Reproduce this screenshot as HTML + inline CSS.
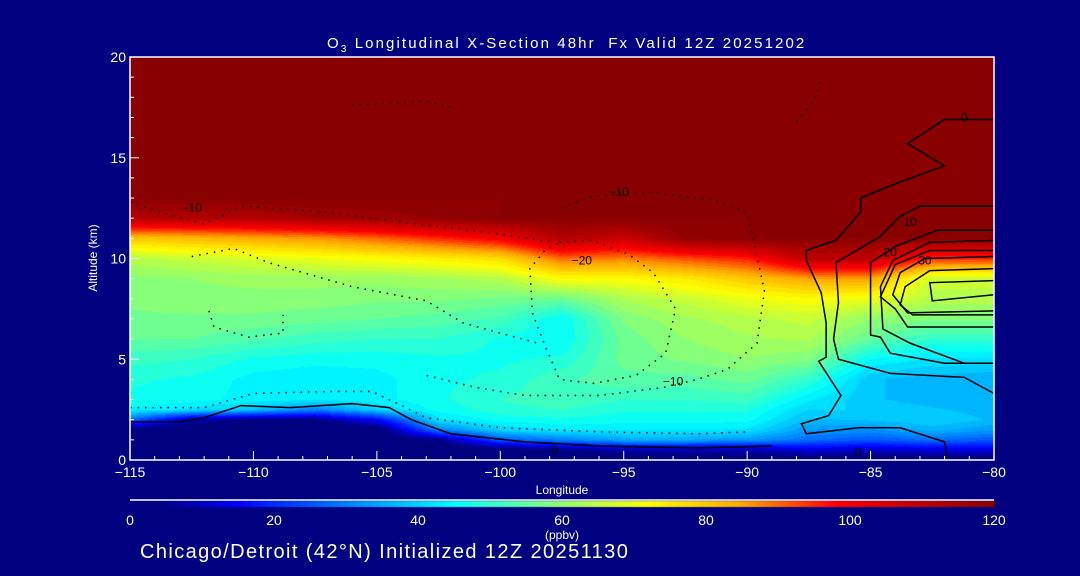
<!DOCTYPE html>
<html><head><meta charset="utf-8">
<style>
html,body{margin:0;padding:0;background:#000080;}
#root{position:relative;width:1080px;height:576px;background:#000080;overflow:hidden;font-family:"Liberation Sans",sans-serif;color:#fff;}
.t{position:absolute;white-space:nowrap;color:#fff;}
canvas{position:absolute;left:0;top:0;}
svg{position:absolute;left:0;top:0;}
</style></head><body>
<div id="root">
<canvas id="field" width="1080" height="576"></canvas>
<svg id="ov" width="1080" height="576"></svg>
<div class="t" style="left:327px;top:35px;font-size:15px;letter-spacing:2.1px;">O<sub style="font-size:10px">3</sub> Longitudinal X-Section 48hr&nbsp; Fx Valid 12Z 20251202</div>
<div class="t" style="left:93px;top:258px;font-size:12px;transform:translate(-50%,-50%) rotate(-90deg);">Altitude (km)</div>
<div class="t" style="left:562px;top:490px;font-size:12px;transform:translate(-50%,-50%);">Longitude</div>
<div class="t" style="left:562px;top:535px;font-size:12px;transform:translate(-50%,-50%);">(ppbv)</div>
<div class="t" style="left:140px;top:541px;font-size:20px;letter-spacing:1.4px;">Chicago/Detroit (42°N) Initialized 12Z 20251130</div>
</div>
<script>
const longitudes=[-115,-112.5,-110,-107.5,-105,-102.5,-100,-97.5,-95,-92.5,-90,-87.5,-85,-82.5,-80];
const altitudes=[0,0.5,1,1.5,2,2.5,3,4,5,6,7,8,9,10,11,12,13,20];
const ozoneByLon=[
[0,0,0,0,28,44,47,48,51,55,57,58,59,64,80,112,120,120],
[0,0,0,0,8,42,46,47,50,55,57,59,60,66,82,112,120,120],
[0,0,0,0,4,38,44,44,47,53,57,59,61,68,84,112,120,120],
[0,0,0,0,4,30,43,43,46,51,56,59,61,70,86,115,120,120],
[0,0,0,0,15,40,44,44,46,50,55,58,61,72,90,116,120,120],
[0,0,4,30,42,46,47,47,47,50,54,58,62,74,95,118,120,120],
[0,0,25,40,46,49,50,48,47,47,52,57,64,77,100,120,120,120],
[0,4,30,43,47,50,52,52,48,45,45,56,72,90,112,120,120,120],
[0,8,35,43,46,48,50,54,56,56,58,63,72,88,108,120,120,120],
[0,8,35,43,46,48,50,54,58,60,62,66,75,92,118,120,120,120],
[0,8,33,42,46,48,51,56,60,62,64,70,80,96,120,120,120,120],
[0,12,28,33,37,40,43,50,58,63,66,72,85,110,120,120,120,120],
[0,10,25,32,38,40,38,38,45,55,60,70,85,110,120,120,120,120],
[0,12,28,36,40,38,36,36,42,50,58,64,66,95,120,120,120,120],
[0,12,25,33,37,36,35,35,42,50,58,64,66,95,120,120,120,120]];
const xTicks=[-115,-110,-105,-100,-95,-90,-85,-80];
const yTicks=[0,5,10,15,20];
const cbTicks=[0,20,40,60,80,100,120];
const posContours=[
[[-80,16.9],[-82,16.9],[-83.5,15.7],[-82,14.6],[-83.8,13.8],[-85.4,13],[-85.4,12.3],[-86.4,10.9],[-87.6,10.4],[-87.6,9.9],[-87,8.3],[-86.8,6.8],[-86.8,5.1],[-87.1,4.9],[-86.2,3.2],[-86.7,2.2],[-87.8,1.8],[-87.6,1.3],[-85.5,1.6],[-83.8,1.6],[-82,0.9],[-81.9,0.2]],
[[-80,12.6],[-83,12.6],[-83.8,12.1],[-84.6,11.1],[-85.7,10.3],[-86.4,9.8],[-86.3,7.8],[-86.5,6.0],[-86.3,5.0],[-84.2,4.3],[-81.2,4.1],[-80,3.3]],
[[-80,11.4],[-82.3,11.4],[-84,10.6],[-85,9.8],[-85,6.2],[-84.6,6.1],[-84.2,5.3],[-82,4.8],[-80,4.8]],
[[-80,10.9],[-82.6,10.8],[-84.1,9.9],[-84.6,8.6],[-84.5,6.5],[-83.4,5.8],[-81.2,4.8],[-80,4.8]],
[[-80,10.4],[-82.6,10.4],[-84,9.7],[-84.6,8.1],[-84,7.5],[-83.5,6.6],[-80,6.6]],
[[-80,10.1],[-82.8,10.0],[-83.8,9.3],[-84.1,8.2],[-83.5,7.3],[-80,7.4]],
[[-80,9.5],[-82.6,9.4],[-83.6,8.6],[-83.8,7.7],[-83.3,7.2],[-80,7.2]],
[[-80,8.9],[-82.6,8.8],[-82.5,7.9],[-80,8.2]],
[[-115,1.9],[-113,1.9],[-112,2.1],[-110.5,2.7],[-108.5,2.6],[-106,2.8],[-104.5,2.6],[-103.6,2.0],[-102,1.3],[-99,0.9],[-96,0.7],[-92,0.6],[-89,0.7]]];
const negContours=[
[[-97.6,10.8],[-96.3,10.9],[-94.8,10.2],[-93.8,9.3],[-92.9,7.5],[-93.3,5.3],[-94.5,4.2],[-96.2,3.8],[-97.6,4.0],[-98.2,5.7],[-98.7,7.3],[-98.8,9.5],[-98.2,10.4],[-97.6,10.8]],
[[-97.5,12.5],[-96.2,13.1],[-94,13.3],[-91.3,12.9],[-90,12.3],[-89.3,8.4],[-89.6,5.8],[-90.8,4.5],[-92,4.0],[-93.4,3.6],[-96,3.2],[-99,3.2],[-101,3.6],[-103,4.2]],
[[-115,12.8],[-113.5,12.2],[-112,11.7],[-110.5,12.6],[-107,12.3],[-104,11.8],[-100,11.2],[-97.8,10.8]],
[[-112.5,10.1],[-110.8,10.5],[-109.4,9.8],[-106,8.6],[-103,7.9],[-101.5,6.8],[-98.5,5.8]],
[[-111.8,7.4],[-111.6,6.6],[-110.2,6.1],[-108.8,6.3],[-108.8,7.2]],
[[-115,2.6],[-112,2.6],[-110,3.3],[-107,3.4],[-105.2,3.4],[-104,2.7],[-103,2.1],[-100,1.6],[-96,1.4],[-92,1.3],[-90,1.4]],
[[-106,17.6],[-103,17.8],[-102,17.5]],
[[-88,16.8],[-87.3,17.8],[-87,18.9]]];
const posLabels=[["0",-81.2,17],["10",-83.4,11.8],["20",-84.2,10.3],["30",-82.8,9.9],["0",-85.5,0.4],["0",-97.8,0.5]];
const negLabels=[["−10",-112.5,12.5],["−10",-95.2,13.3],["−20",-96.7,9.9],["−10",-93,3.9]];

const X0=130,X1=994,Y0=57,Y1=460;
function xS(lon){return X0+(lon+115)/35*(X1-X0);}
function yS(a){return Y1-a/20*(Y1-Y0);}
const stops=[[0,0,0,128],[4,0,0,128],[15,0,0,255],[30,0,128,255],[45,0,255,255],[58,128,255,128],[72,255,255,0],[85,255,165,0],[98,255,0,0],[120,136,0,0]];
function cmap(v){v=Math.max(0,Math.min(120,v));for(let i=1;i<stops.length;i++){if(v<=stops[i][0]){const a=stops[i-1],b=stops[i],t=(v-a[0])/(b[0]-a[0]);return [a[1]+t*(b[1]-a[1]),a[2]+t*(b[2]-a[2]),a[3]+t*(b[3]-a[3])];}}return [136,0,0];}
function idx(arr,v){for(let i=0;i<arr.length-1;i++){if(v<=arr[i+1])return i;}return arr.length-2;}
function val(lon,a){const i=idx(longitudes,lon),j=idx(altitudes,a);const tx=(lon-longitudes[i])/(longitudes[i+1]-longitudes[i]);const ty=(a-altitudes[j])/(altitudes[j+1]-altitudes[j]);const g=ozoneByLon;const v0=g[i][j]*(1-tx)+g[i+1][j]*tx,v1=g[i][j+1]*(1-tx)+g[i+1][j+1]*tx;return v0*(1-ty)+v1*ty;}
const cv=document.getElementById('field'),ctx=cv.getContext('2d');
const W=X1-X0,H=Y1-Y0;const img=ctx.createImageData(W,H);
for(let py=0;py<H;py++){const a=(Y1-(Y0+py+0.5))/(Y1-Y0)*20;for(let px=0;px<W;px++){const lon=-115+(px+0.5)/W*35;let v=val(lon,a);v=Math.floor(v/2.5)*2.5+1.25;if(v<5)v=0;const c=cmap(v);const k=(py*W+px)*4;img.data[k]=c[0];img.data[k+1]=c[1];img.data[k+2]=c[2];img.data[k+3]=255;}}
ctx.putImageData(img,X0,Y0);
for(let px=0;px<=X1-X0;px++){const c=cmap(px/(X1-X0)*120);ctx.fillStyle='rgb('+c.map(Math.round).join(',')+')';ctx.fillRect(X0+px,501,1,6);}
const NS='http://www.w3.org/2000/svg';const ov=document.getElementById('ov');
function mk(tag,at){const e=document.createElementNS(NS,tag);for(const k in at)e.setAttribute(k,at[k]);ov.appendChild(e);return e;}
posContours.forEach(c=>{const e=mk('polyline',{points:c.map(p=>xS(p[0])+','+yS(p[1])).join(' '),fill:'none',stroke:'#000','stroke-width':1.5});

});
negContours.forEach(c=>{const e=mk('polyline',{points:c.map(p=>xS(p[0])+','+yS(p[1])).join(' '),fill:'none',stroke:'#000','stroke-width':1.5,'stroke-dasharray':'1.5 6'});

});
posLabels.concat(negLabels).forEach(l=>{const e=mk('text',{x:xS(l[1]),y:yS(l[2])+4,'font-size':12,'text-anchor':'middle',fill:'#000','font-family':'Liberation Sans, sans-serif'});e.textContent=l[0];

});
const fr=mk('path',{d:`M${X0} ${Y0}H${X1}V${Y1}H${X0}Z`,fill:'none',stroke:'#fff','stroke-width':1.5});


for(let l=-115;l<=-80;l++){const maj=(l%5===0);const e=mk('line',{x1:xS(l),x2:xS(l),y1:Y1,y2:Y1-(maj?9:4),stroke:'#fff','stroke-width':1});

}
for(let a=0;a<=20;a++){const maj=(a%5===0);const e=mk('line',{x1:X0,x2:X0+(maj?9:4),y1:yS(a),y2:yS(a),stroke:'#fff','stroke-width':1});

}
xTicks.forEach(l=>{const e=mk('text',{x:xS(l),y:477,'font-size':14,'text-anchor':'middle',fill:'#fff','font-family':'Liberation Sans, sans-serif'});e.textContent=(l<0?'−':'')+Math.abs(l);

});
yTicks.forEach(a=>{const e=mk('text',{x:X0-4,y:yS(a)+5,'font-size':14,'text-anchor':'end',fill:'#fff','font-family':'Liberation Sans, sans-serif'});e.textContent=a;

});
const cl=mk('line',{x1:X0,x2:X1,y1:500,y2:500,stroke:'#fff','stroke-width':1.5});


cbTicks.forEach(v=>{const e=mk('text',{x:X0+v/120*(X1-X0),y:525,'font-size':14,'text-anchor':'middle',fill:'#fff','font-family':'Liberation Sans, sans-serif'});e.textContent=v;

});
</script>
</body></html>
